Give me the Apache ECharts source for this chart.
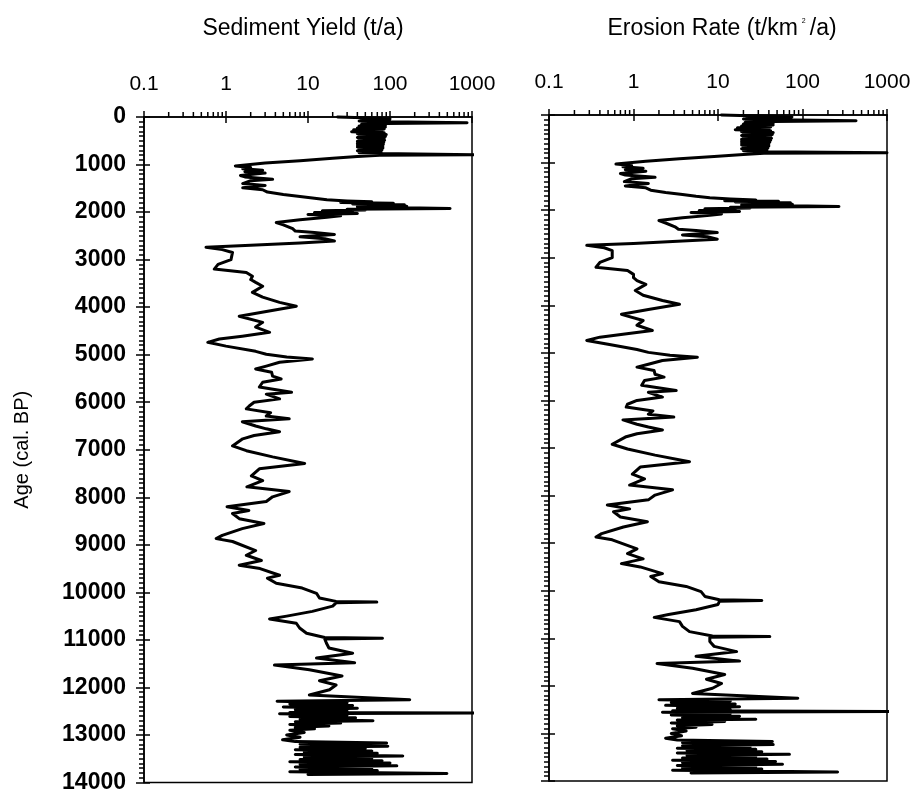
<!DOCTYPE html>
<html>
<head>
<meta charset="utf-8">
<script src="https://cdn.jsdelivr.net/npm/echarts@6/dist/echarts.min.js"></script>
<style>html,body{margin:0;padding:0;background:#fff}#c{width:916px;height:794px}</style>
</head>
<body>
<div id="c"></div>
<script>
// ---- data ----
const ages = [
  0,20,40,55,70,85,100,120,135,150,170,190,210,230,250,270,290,310,330,350,370,390,410,430,450,470,490,510,530,550,570,590,610,630,650,670,690,710,730,750,770,795,805,830,870,920,970,
  1030,1060,1090,1120,1150,1180,1230,1260,1310,1340,1400,1440,1490,1530,1580,1630,1670,1710,
  1740,1765,1785,1800,1815,1830,1845,1860,1875,1890,1905,1925,1940,1955,1970,1990,2010,2030,2050,
  2080,2110,2160,2220,2270,2350,2400,2430,2470,2520,2560,2610,2650,2700,2740,
  2790,2850,3000,3100,3200,3270,3350,3420,3480,3560,3690,3790,3900,3980,4090,4190,4320,4420,4530,4610,4670,4740,4820,4930,4990,5050,5090,
  5160,5240,5300,5370,5450,5510,5580,5680,5790,5830,5930,6000,6080,6140,6220,6290,6350,6410,6500,6560,6620,6700,6770,6920,7020,7150,7290,
  7400,7550,7650,7780,7880,7990,8090,8200,8280,8340,8450,8550,8660,8800,8870,8930,9120,9220,9330,9430,9500,
  9640,9700,9810,9910,10020,10120,10190,10205,10220,10290,10400,10500,10560,10650,10750,10860,10950,10965,10980,11070,11170,11280,11380,11480,11530,11630,11760,11860,11950,12050,12160,
  12260,12290,12320,12350,12380,12410,12440,12470,12500,12525,12540,12555,12580,12610,12640,12670,12700,12720,12750,12780,12810,12840,12870,12900,12950,13000,13050,13100,13140,13170,13195,13220,13235,13260,13285,13310,13335,13360,13385,13410,13440,13465,13490,13515,13540,13565,13590,13615,13650,13675,13700,13725,13750,13775,13810,13830
];
const sedimentYield = [
  23,60,100,45,90,42,95,870,90,45,88,42,88,40,85,36,80,34,85,40,90,42,88,40,85,42,86,40,84,40,83,40,82,40,82,42,80,40,78,42,75,1180,75,40,20,8,3,
  1.3,2.0,1.6,2.8,1.7,3.0,1.5,1.7,3.7,2.0,1.6,3.0,1.6,2.8,3.2,5,8,12,
  17,30,60,25,110,35,150,45,160,40,100,540,30,50,15,35,12,40,10,
  25,17,8,4.1,5,6.5,7,12,21,8,16,21,8,2,0.57,
  0.9,1.2,1.15,0.8,0.72,1.77,2.1,2.0,2.3,2.8,2.1,2.8,4.5,7.2,3.1,1.45,2.8,2.3,3.4,1.58,0.83,0.6,1.0,2.3,3.1,5.5,11.3,
  4.5,3.1,2.3,3.6,3.7,4.7,2.8,2.55,6.3,3.1,4.5,2.2,1.92,1.77,3.5,3.1,5.9,1.58,2.3,3.1,4.5,2.2,1.6,1.2,1.77,3.7,9.1,
  2.55,2.04,2.8,1.8,5.9,3.7,3.1,1.03,1.9,1.2,1.45,2.9,1.58,0.9,0.76,1.2,2.3,1.77,2.7,1.45,2.6,
  4.5,3.2,4.1,8.5,12.7,13.8,22,69,22,20,11.3,5.5,3.4,7.2,7.9,9.6,16,81,16,16.8,18,35,12.7,37,3.9,10.4,26,13.8,22,18.3,10.4,
  174,4.2,30,6,35,5,40,7,30,6,1180,4.5,30,6,38,8,62,7,25,6,18,7,12,6,9,5.5,8,4.9,7,91,8,40,94,8,50,7,60,9,70,7,143,9,60,8,80,6,100,8,121,7,60,8,70,6,494,10
];
const erosionRate = [
  11,30,75,22,45,20,48,430,45,21,45,20,45,19,42,17,40,16,42,19,45,20,44,19,42,20,43,19,42,19,41,19,40,19,40,20,39,19,38,20,36,1000,35,20,9,3.5,1.4,
  0.62,0.95,0.75,1.3,0.8,1.4,0.7,0.8,1.8,0.95,0.78,1.5,0.8,1.4,1.6,2.4,3.8,5.5,
  8,14,28,12,52,16,72,21,76,19,48,270,14,24,7,16,6,18,4.8,
  11,8,3.8,2.0,2.4,3.1,3.4,5.5,9.8,3.8,7.5,9.8,3.8,1.0,0.28,
  0.45,0.56,0.56,0.4,0.36,0.85,1.0,1.0,1.1,1.4,1.05,1.3,2.2,3.5,1.5,0.72,1.3,1.1,1.67,0.75,0.4,0.28,0.5,1.1,1.5,2.7,5.7,
  2.2,1.5,1.1,1.75,1.8,2.3,1.35,1.25,3.2,1.5,2.2,1.1,0.85,0.82,1.7,1.5,3.0,0.75,1.1,1.5,2.2,1.1,0.8,0.56,0.85,1.8,4.6,
  1.2,0.97,1.35,0.9,2.9,1.8,1.5,0.49,0.9,0.58,0.7,1.46,0.76,0.42,0.36,0.56,1.1,0.85,1.3,0.72,1.2,
  2.2,1.6,2.0,4.2,6.3,7.0,10.4,33,10.4,10,5.5,2.6,1.76,3.5,3.8,4.6,8.6,41,8,8,9,16.6,5.5,18,1.9,5,12,7.3,11,8.6,5,
  88,2.0,14,2.8,16,2.4,18,3.3,14,2.9,1170,2.2,14,2.8,18,3.8,28,3.3,12,2.8,8.5,3.3,5.5,2.9,4.2,2.8,3.7,2.4,3.3,44,3.8,18,45,3.8,24,3.3,28,4.3,33,3.3,70,4.3,28,3.8,38,2.9,48,3.8,58,3.3,28,3.8,33,2.9,260,4.8
];
const xTickLabels = ['0.1', '1', '10', '100', '1000'];
const minorTickVals = [0.2,0.3,0.4,0.5,0.6,0.7,0.8,0.9, 2,3,4,5,6,7,8,9, 20,30,40,50,60,70,80,90, 200,300,400,500,600,700,800,900];
const titles = ['Sediment Yield (t/a)', 'Erosion Rate (t/km{sup|2}/a)'];
const yName = 'Age (cal. BP)';

// ---- chart ----
const FONT = '"Liberation Sans", Arial, Helvetica, sans-serif';
const BLACK = '#000';
const yieldData = ages.map((a, i) => [sedimentYield[i], a]);
const rateData = ages.map((a, i) => [erosionRate[i], a]);
const tickData = minorTickVals.map(v => [v, 0]);

function xAxisPair(grid) {
  const base = {
    gridIndex: grid, type: 'log', logBase: 10, min: 0.1, max: 1000, position: 'top',
    splitLine: {show: false}
  };
  return [
    Object.assign({}, base, {
      axisLine: {show: true, lineStyle: {color: BLACK, width: 1.5}},
      axisTick: {show: true, length: 6, lineStyle: {color: BLACK, width: 1.5}},
      axisLabel: {
        show: true, fontSize: 21, color: BLACK, fontFamily: FONT, margin: 22,
        formatter: v => xTickLabels[Math.round(Math.log10(v)) + 1]
      }
    }),
    Object.assign({}, base, {
      axisLine: {show: false},
      axisTick: {show: true, inside: true, length: 6, lineStyle: {color: BLACK, width: 1.5}},
      axisLabel: {show: false}
    })
  ];
}
function yAxisPair(grid, withLabels) {
  const base = {
    gridIndex: grid, type: 'value', min: 0, max: 14000, interval: 1000, inverse: true,
    position: 'left', splitLine: {show: false}, minorSplitLine: {show: false}
  };
  const main = Object.assign({}, base, {
    axisLine: {show: true, lineStyle: {color: BLACK, width: 1.5}},
    axisTick: {show: true, length: 8, lineStyle: {color: BLACK, width: 1.5}},
    minorTick: {show: true, splitNumber: 10, length: 5, lineStyle: {color: BLACK, width: 1.5}},
    axisLabel: {show: withLabels, fontSize: 23, fontWeight: 'bold', color: BLACK, fontFamily: FONT, margin: 18,
                formatter: v => String(v)}
  });
  if (withLabels) {
    Object.assign(main, {
      name: yName, nameLocation: 'middle', nameRotate: 90, nameGap: 112,
      nameTextStyle: {fontSize: 20, color: BLACK, fontFamily: FONT}
    });
  }
  return [main, Object.assign({}, base, {
    axisLine: {show: false},
    axisTick: {show: true, inside: true, length: 6, lineStyle: {color: BLACK, width: 1.5}},
    axisLabel: {show: false}
  })];
}
function minorTickSeries(axisIdx) {
  return {
    type: 'custom', xAxisIndex: axisIdx, yAxisIndex: axisIdx, silent: true, clip: false,
    data: tickData, encode: {x: 0, y: 1},
    renderItem: (params, api) => {
      const p = api.coord([api.value(0), api.value(1)]);
      return {type: 'line', shape: {x1: p[0], y1: p[1], x2: p[0], y2: p[1] - 5},
              style: {stroke: BLACK, lineWidth: 1.5}};
    }
  };
}
function curve(axisIdx, data) {
  return {
    type: 'line', xAxisIndex: axisIdx, yAxisIndex: axisIdx, data: data,
    showSymbol: false, symbol: 'none', clip: false, silent: true,
    lineStyle: {color: BLACK, width: 3, join: 'round', cap: 'round'}
  };
}

const chart = echarts.init(document.getElementById('c'), null, {renderer: 'canvas'});
chart.setOption({
  animation: false,
  backgroundColor: '#fff',
  textStyle: {fontFamily: FONT},
  grid: [
    {left: 144, top: 117, width: 328, height: 668, show: true, borderColor: BLACK, borderWidth: 1.5, backgroundColor: 'transparent'},
    {left: 549, top: 115, width: 338, height: 666, show: true, borderColor: BLACK, borderWidth: 1.5, backgroundColor: 'transparent'}
  ],
  xAxis: [...xAxisPair(0), ...xAxisPair(1)],
  yAxis: [...yAxisPair(0, true), ...yAxisPair(1, false)],
  graphic: [
    {type: 'text', x: 303, y: 29, style: {text: titles[0], font: '23px ' + FONT, fill: BLACK, textAlign: 'center', textVerticalAlign: 'middle'}},
    {type: 'text', x: 722, y: 29, style: {
      text: titles[1], fontSize: 23, fontFamily: FONT, fill: BLACK, align: 'center', verticalAlign: 'middle',
      rich: {sup: {fontSize: 7, fontFamily: FONT, fill: BLACK, verticalAlign: 'top', padding: [0, 4, 14, 4]}}
    }}
  ],
  series: [
    curve(0, yieldData),
    curve(2, rateData),
    minorTickSeries(0),
    minorTickSeries(2)
  ]
});
</script>
</body>
</html>
